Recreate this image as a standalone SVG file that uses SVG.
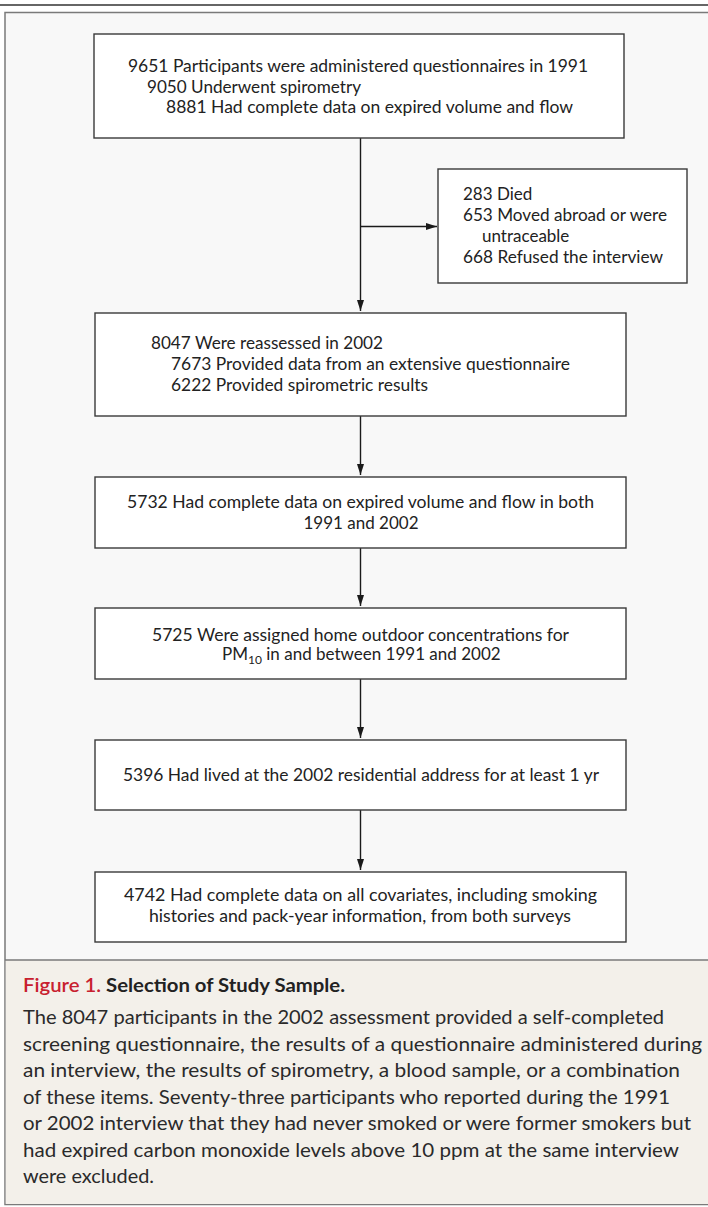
<svg xmlns="http://www.w3.org/2000/svg" width="708" height="1207" viewBox="0 0 708 1207">
<defs>
<style>
.box{fill:#ffffff;stroke:#3a3a3a;stroke-width:1.4}
.t{font-family:Lato,"Open Sans","Liberation Sans",sans-serif;font-size:17px;fill:#222}
.c{text-anchor:middle}
.cap{font-family:Lato,"Open Sans","Liberation Sans",sans-serif;font-size:19px;fill:#2a2a2a}
.conn{stroke:#1a1a1a;stroke-width:1.4;fill:none}
</style>
<marker id="ah" markerUnits="userSpaceOnUse" markerWidth="12" markerHeight="8" refX="11" refY="3.5" orient="auto">
<path d="M0,0 L11,3.5 L0,7 z" fill="#1a1a1a"/>
</marker>
</defs>
<rect x="0" y="0" width="708" height="1207" fill="#ffffff"/>
<line x1="0" y1="5" x2="708" y2="5" stroke="#666" stroke-width="2"/>
<rect x="5" y="12.5" width="710" height="1192" fill="#f8f8f8" stroke="#7a7a7a" stroke-width="1.5"/>
<rect x="5.75" y="960" width="705" height="244" fill="#f3f0ea"/>
<line x1="5" y1="960" x2="708" y2="960" stroke="#7a7a7a" stroke-width="1.5"/>

<g id="connectors">
<line class="conn" x1="360.5" y1="138" x2="360.5" y2="311" marker-end="url(#ah)"/>
<line class="conn" x1="360.5" y1="226.5" x2="437" y2="226.5" marker-end="url(#ah)"/>
<line class="conn" x1="360.5" y1="416" x2="360.5" y2="475" marker-end="url(#ah)"/>
<line class="conn" x1="360.5" y1="548" x2="360.5" y2="606" marker-end="url(#ah)"/>
<line class="conn" x1="360.5" y1="679" x2="360.5" y2="738" marker-end="url(#ah)"/>
<line class="conn" x1="360.5" y1="810" x2="360.5" y2="870" marker-end="url(#ah)"/>
</g>

<g id="n1">
<rect class="box" x="94" y="34" width="530" height="104"/>
<text class="t" x="128" y="72" textLength="460" lengthAdjust="spacingAndGlyphs">9651 Participants were administered questionnaires in 1991</text>
<text class="t" x="147" y="93" textLength="214" lengthAdjust="spacingAndGlyphs">9050 Underwent spirometry</text>
<text class="t" x="166" y="113" textLength="407" lengthAdjust="spacingAndGlyphs">8881 Had complete data on expired volume and flow</text>
</g>

<g id="n2">
<rect class="box" x="438" y="169" width="249" height="114"/>
<text class="t" x="463" y="200">283 Died</text>
<text class="t" x="463" y="221" textLength="204" lengthAdjust="spacingAndGlyphs">653 Moved abroad or were</text>
<text class="t" x="482" y="242">untraceable</text>
<text class="t" x="463" y="263" textLength="200" lengthAdjust="spacingAndGlyphs">668 Refused the interview</text>
</g>

<g id="n3">
<rect class="box" x="95" y="313" width="531" height="103"/>
<text class="t" x="151" y="349" textLength="232" lengthAdjust="spacingAndGlyphs">8047 Were reassessed in 2002</text>
<text class="t" x="171" y="370" textLength="399" lengthAdjust="spacingAndGlyphs">7673 Provided data from an extensive questionnaire</text>
<text class="t" x="171" y="391" textLength="257" lengthAdjust="spacingAndGlyphs">6222 Provided spirometric results</text>
</g>

<g id="n4">
<rect class="box" x="95" y="477" width="531" height="71"/>
<text class="t" x="127" y="508" textLength="467" lengthAdjust="spacingAndGlyphs">5732 Had complete data on expired volume and flow in both</text>
<text class="t c" x="361" y="529">1991 and 2002</text>
</g>

<g id="n5">
<rect class="box" x="95" y="608" width="531" height="71"/>
<text class="t" x="152" y="641" textLength="417" lengthAdjust="spacingAndGlyphs">5725 Were assigned home outdoor concentrations for</text>
<text class="t" x="222" y="660">PM<tspan font-size="12" dy="4">10</tspan><tspan dy="-4"> in and between 1991 and 2002</tspan></text>
</g>

<g id="n6">
<rect class="box" x="95" y="740" width="531" height="70"/>
<text class="t" x="123" y="781" textLength="476" lengthAdjust="spacingAndGlyphs">5396 Had lived at the 2002 residential address for at least 1 yr</text>
</g>

<g id="n7">
<rect class="box" x="95" y="872" width="531" height="70"/>
<text class="t" x="124" y="901" textLength="473" lengthAdjust="spacingAndGlyphs">4742 Had complete data on all covariates, including smoking</text>
<text class="t" x="149" y="922" textLength="422" lengthAdjust="spacingAndGlyphs">histories and pack-year information, from both surveys</text>
</g>

<g id="caption">
<text class="cap" x="23" y="992" font-weight="bold" textLength="322" lengthAdjust="spacingAndGlyphs"><tspan fill="#c8202f" font-weight="600">Figure 1.</tspan> <tspan fill="#222">Selection of Study Sample.</tspan></text>
<text class="cap" x="23" y="1024" textLength="641" lengthAdjust="spacingAndGlyphs">The 8047 participants in the 2002 assessment provided a self-completed</text>
<text class="cap" x="23" y="1050.5" textLength="679" lengthAdjust="spacingAndGlyphs">screening questionnaire, the results of a questionnaire administered during</text>
<text class="cap" x="23" y="1077" textLength="657" lengthAdjust="spacingAndGlyphs">an interview, the results of spirometry, a blood sample, or a combination</text>
<text class="cap" x="23" y="1103.5" textLength="647" lengthAdjust="spacingAndGlyphs">of these items. Seventy-three participants who reported during the 1991</text>
<text class="cap" x="23" y="1130" textLength="668" lengthAdjust="spacingAndGlyphs">or 2002 interview that they had never smoked or were former smokers but</text>
<text class="cap" x="23" y="1156.5" textLength="656" lengthAdjust="spacingAndGlyphs">had expired carbon monoxide levels above 10 ppm at the same interview</text>
<text class="cap" x="23" y="1183" textLength="131" lengthAdjust="spacingAndGlyphs">were excluded.</text>
</g>
</svg>
